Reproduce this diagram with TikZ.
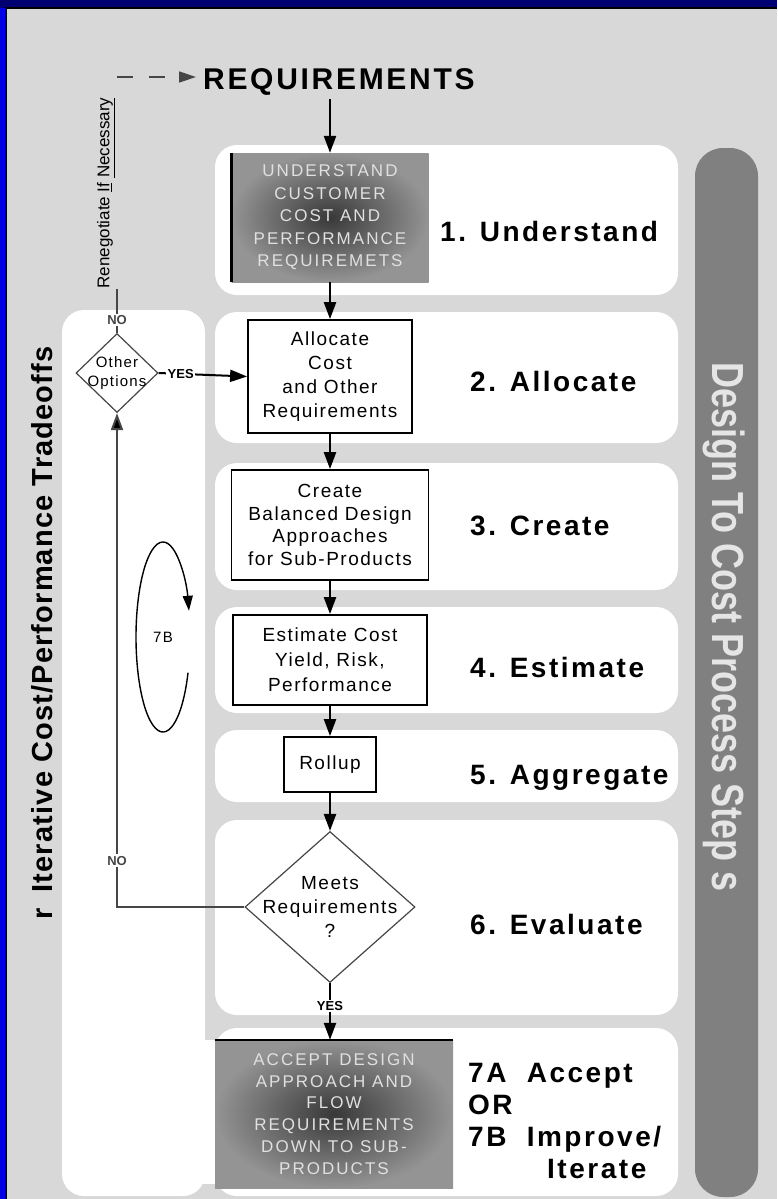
\documentclass[tikz,border=0pt]{standalone}
\usepackage{fontspec}
\setmainfont{Liberation Sans}
\newfontfamily\boxfont[LetterSpace=8]{Liberation Sans}
\newfontfamily\capsfont[LetterSpace=12]{Liberation Sans}
\newfontfamily\stepfont[LetterSpace=9]{Liberation Sans}
\newfontfamily\sidefont[LetterSpace=4]{Liberation Sans}
\usetikzlibrary{arrows.meta,calc,positioning,shapes.geometric}
\definecolor{navy}{RGB}{0,0,112}
\definecolor{edgeblue}{RGB}{0,0,230}
\definecolor{bggray}{RGB}{216,216,216}
\definecolor{pillgray}{RGB}{128,128,128}
\definecolor{linegray}{RGB}{70,70,70}

\begin{document}
\begin{tikzpicture}[x=1pt,y=-1pt,
every node/.style={inner sep=0pt,font=\boxfont\fontsize{19}{24}\selectfont},
whitebox/.style={draw,line width=1.8pt,fill=white,align=center},
darkbox/.style={inner color=black!78,outer color=black!42,text=white!88!black,
  align=center,font=\capsfont\fontsize{17}{22.5}\selectfont},
decision/.style={diamond,draw=linegray,line width=1.2pt,fill=white},
steplabel/.style={anchor=base west,align=left,font=\stepfont\bfseries\fontsize{28}{32}\selectfont},
panel/.style={fill=white,rounded corners=22pt},
arr/.style={line width=2.4pt,-{Triangle[length=17pt,width=12pt]}},
tag/.style={font=\bfseries\fontsize{13}{13}\selectfont,fill=white,inner sep=1.5pt}]
\useasboundingbox (0,0) rectangle (777,1199);
\fill[bggray] (0,0) rectangle (777,1199);
\fill[navy] (0,0) rectangle (777,8);
\fill[edgeblue] (0,8) rectangle (6,1199);
\draw[line width=1.5pt] (6,1199) -- (6,8) -- (777,8);

\fill[panel] (62,310) rectangle (205,1196);
\foreach \t/\b in {145/295,312/443,463/590,607/713,730/802,820/1015,1028/1196}
  \fill[panel] (215,\t) rectangle (678,\b);
\fill[white] (200,1040) rectangle (220,1184);
\fill[pillgray,rounded corners=28pt] (695,148) rectangle (758,1197);

\node[anchor=base west,font=\stepfont\bfseries\fontsize{30}{30}\selectfont] (req) at (203,89) {REQUIREMENTS};
\node[darkbox,minimum width=197pt,minimum height=129pt] (und) at (330,217.5)
  {UNDERSTAND\\CUSTOMER\\COST AND\\PERFORMANCE\\REQUIREMETS};
\draw[line width=3pt] (und.north west) -- (und.south west);
\node[whitebox,minimum width=164pt,minimum height=113pt] (alloc) at (330,376.5)
  {Allocate\\Cost\\and Other\\Requirements};
\node[whitebox,minimum width=197pt,minimum height=110pt,font=\boxfont\fontsize{19}{22.5}\selectfont] (create) at (330,525)
  {Create\\Balanced Design\\Approaches\\for Sub-Products};
\node[whitebox,minimum width=194pt,minimum height=90pt,font=\boxfont\fontsize{19}{25}\selectfont] (est) at (330,660)
  {Estimate Cost\\Yield, Risk,\\Performance};
\node[whitebox,minimum width=92pt,minimum height=55pt] (rollup) at (330,764.5) {Rollup};
\node[decision,minimum width=170pt,minimum height=151pt] (meets) at (330,907) {};
\node[align=center] (meetstxt) at (meets.center) {Meets\\Requirements\\?};
\node[darkbox,minimum width=238pt,minimum height=148pt,font=\capsfont\fontsize{17}{21.8}\selectfont] (accept) at (334,1114)
  {ACCEPT DESIGN\\APPROACH AND\\FLOW\\REQUIREMENTS\\DOWN TO SUB-\\PRODUCTS};
\draw[line width=2.5pt] (accept.north west) -- (accept.north east);

\node[decision,minimum width=82pt,minimum height=79pt] (other) at (117,373) {};
\node[align=center,font=\boxfont\fontsize{15}{19}\selectfont] (othertxt) at (other.center) {Other\\Options};
\node[rotate=90,font=\fontsize{17}{17}\selectfont] (neg) at (106,193)
  {Renegotiate \underline{If} \underline{Necessary}};
\coordinate (bend) at (117,77);

\node[steplabel] (s1) at (440,241) {1. Understand};
\node[steplabel] (s2) at (470,391) {2. Allocate};
\node[steplabel] (s3) at (470,535) {3. Create};
\node[steplabel] (s4) at (470,677) {4. Estimate};
\node[steplabel] (s5) at (470,784) {5. Aggregate};
\node[steplabel] (s6) at (470,934) {6. Evaluate};
\node[steplabel] (s7) at (468,1178)
  {7A\hspace{10pt} Accept\\OR\\7B\hspace{10pt} Improve/\\\hspace{79pt}Iterate};

\node[rotate=90,anchor=base,font=\sidefont\bfseries\fontsize{29}{29}\selectfont] (loopttl) at (52,633)
  {r\hspace{16pt}Iterative Cost/Performance Tradeoffs};
\node[rotate=-90,yscale=1.25,anchor=base,text=white!90!black,font=\bfseries\fontsize{36}{36}\selectfont] (pillttl) at (712,627)
  {Design To Cost Process Step s};

\coordinate (loopc) at (163,637);
\draw[line width=1.4pt,-{Triangle[length=15pt,width=10pt]}] (loopc) ++(22:27 and 95)
  arc[start angle=22,end angle=344,x radius=27,y radius=95];
\node[font=\boxfont\fontsize{15}{15}\selectfont] (sevenb) at (loopc) {7B};

\draw[arr,shorten <=4pt] (req.south -| und.north) -- (und.north);
\draw[arr] (und) -- (alloc);
\draw[arr] (alloc) -- (create);
\draw[arr] (create) -- (est);
\draw[arr] (est) -- (rollup);
\draw[arr] (rollup) -- (meets);
\draw[arr] (meets.south) -- node[tag,pos=0.4] (yes1) {YES} (meets.south |- accept.north);
\draw[linegray,line width=2pt,-{Triangle[length=17pt,width=12pt,fill=black]}] (meets.west) -| node[tag,pos=0.547] (no1) {NO} (other.south);
\draw[line width=2pt,-{Triangle[length=17pt,width=12pt]}] (other.east) -- node[tag,pos=0.25] (yes2) {YES} (alloc.west);
\draw[linegray,line width=1.5pt] (other.north) -- node[tag,pos=0.3] (no2) {NO} (other.north |- neg.west);
\draw[linegray,line width=1.5pt,dash pattern=on 16pt off 16pt,shorten >=7pt,
  -{Triangle[length=17pt,width=11pt]}] (bend) -- (req.west |- bend);
\end{tikzpicture}
\end{document}
